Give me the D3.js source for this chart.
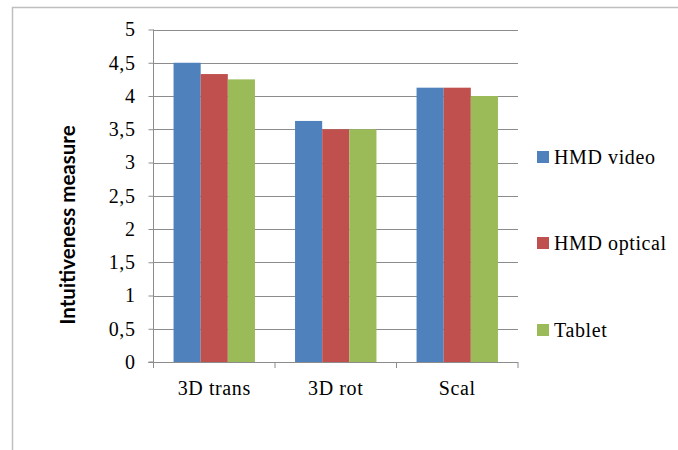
<!DOCTYPE html>
<html><head><meta charset="utf-8">
<script src="https://cdn.jsdelivr.net/npm/d3@7"></script>
<style>html,body{margin:0;padding:0;background:#fff;}svg{display:block;}</style>
</head><body>
<svg id="chart" width="678" height="450"></svg>
<script>
const categories = ["3D trans", "3D rot", "Scal"];
const seriesNames = ["HMD video", "HMD optical", "Tablet"];
const hmdVideo = [4.5, 3.625, 4.125];
const hmdOptical = [4.33, 3.5, 4.125];
const tablet = [4.25, 3.5, 4.0];
const yTicks = [0, 0.5, 1, 1.5, 2, 2.5, 3, 3.5, 4, 4.5, 5];
const colors = ["#4f81bd", "#c0504d", "#9bbb59"];

(function () {
const svg = d3.select("#chart");
const series = [hmdVideo, hmdOptical, tablet];

// outer border
svg.append("path").attr("d", "M12.5,450 L12.5,7.5 L678,7.5")
  .attr("fill", "none").attr("stroke", "#bfbfbf").attr("stroke-width", 1.5);

const pLeft = 153.5, pRight = 518, pTop = 29.5, pBottom = 362;
const x0 = d3.scaleBand().domain(categories).range([pLeft, pRight]).paddingInner(0.33).paddingOuter(0.165);
const x1 = d3.scaleBand().domain(seriesNames).range([0, x0.bandwidth()]);
const y = d3.scaleLinear().domain([0, 5]).range([pBottom, pTop]);
const serif = "'Liberation Serif', 'DejaVu Serif', serif";
const ls = 0.6;

// gridlines
svg.append("g").selectAll("line").data(yTicks.filter(d => d > 0)).join("line")
  .attr("x1", pLeft).attr("x2", pRight)
  .attr("y1", d => Math.round(y(d)) + 0.5).attr("y2", d => Math.round(y(d)) + 0.5)
  .attr("stroke", "#8c8c8c").attr("stroke-width", 1);

// bars
const g = svg.append("g");
categories.forEach((c, i) => {
  series.forEach((s, j) => {
    g.append("rect")
      .attr("x", x0(c) + x1(seriesNames[j]))
      .attr("y", y(s[i]))
      .attr("width", x1.bandwidth())
      .attr("height", y(0) - y(s[i]))
      .attr("fill", colors[j]);
  });
});

// y axis
const yAxis = d3.axisLeft(y).tickValues(yTicks).tickSize(5).tickPadding(13)
  .tickFormat(d => String(d).replace(".", ","));
const ya = svg.append("g").attr("transform", `translate(${pLeft},0)`).call(yAxis);
ya.select(".domain").attr("stroke", "#8c8c8c").attr("d", `M-5,${pBottom}H0V${pTop}`);
ya.selectAll(".tick line").attr("stroke", "#8c8c8c");
ya.selectAll(".tick text").attr("font-family", serif).attr("font-size", 20).attr("fill", "#000")
  .attr("letter-spacing", ls);

// x axis
const ticksX = [pLeft, ...categories.map((c, i) => pLeft + (pRight - pLeft) * (i + 1) / categories.length)];
const xa = svg.append("g").attr("transform", `translate(0,${pBottom})`);
xa.append("line").attr("x1", pLeft - 5).attr("x2", pRight).attr("y1", 0.5).attr("y2", 0.5).attr("stroke", "#8c8c8c");
xa.selectAll("line.t").data(ticksX).join("line").attr("class", "t")
  .attr("x1", d => d).attr("x2", d => d).attr("y1", 0).attr("y2", 6).attr("stroke", "#8c8c8c");
xa.selectAll("text").data(categories).join("text")
  .attr("x", d => x0(d) + x0.bandwidth() / 2).attr("y", 33)
  .attr("text-anchor", "middle").attr("font-family", serif).attr("font-size", 20)
  .attr("letter-spacing", ls).text(d => d);

// y title
svg.append("text").attr("transform", "translate(75,225) rotate(-90)")
  .attr("text-anchor", "middle").attr("font-family", "Lato, 'Liberation Sans', sans-serif")
  .attr("font-weight", "bold").attr("font-size", 20.5).text("Intuitiveness measure");

// legend
const legY = [157, 243, 330];
const lg = svg.append("g");
seriesNames.forEach((n, i) => {
  lg.append("rect").attr("x", 537).attr("y", legY[i] - 6).attr("width", 12).attr("height", 12).attr("fill", colors[i]);
  lg.append("text").attr("x", 554).attr("y", legY[i] + 6.5).attr("font-family", serif).attr("font-size", 20)
    .attr("letter-spacing", ls).text(n);
});
})();
</script>
</body></html>
